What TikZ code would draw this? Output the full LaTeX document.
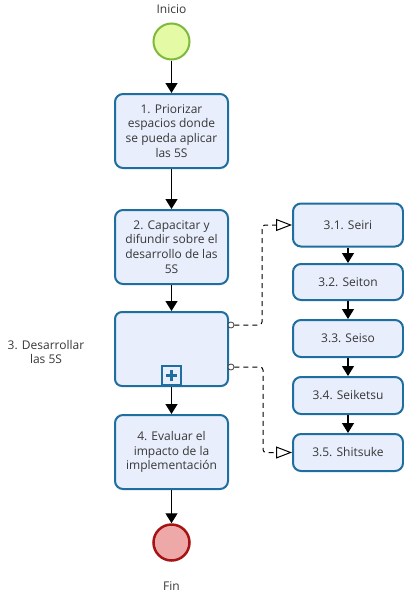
\documentclass[tikz,border=0pt]{standalone}
\usepackage{fontspec}
\setmainfont{Open Sans}
\usetikzlibrary{arrows.meta}
\definecolor{taskline}{RGB}{30,110,160}
\definecolor{taskfill}{RGB}{232,238,252}
\definecolor{startline}{RGB}{125,185,60}
\definecolor{startfill}{RGB}{228,250,165}
\definecolor{endline}{RGB}{165,20,20}
\definecolor{endfill}{RGB}{238,168,168}
\definecolor{txt}{RGB}{55,55,55}
\tikzset{
  task/.style={draw=taskline, fill=taskfill, line width=2pt, rounded corners=8pt,
    minimum width=113pt, minimum height=74pt, align=center,
    inner sep=0pt, text=txt, font=\fontsize{12}{14.7}\selectfont},
  subtask/.style={task, minimum width=110pt},
  startev/.style={circle, draw=startline, fill=startfill, line width=2pt, minimum size=36pt, inner sep=0pt},
  endev/.style={circle, draw=endline, fill=endfill, line width=2.5pt, minimum size=36pt, inner sep=0pt},
  lbl/.style={text=txt, align=center, font=\fontsize{12}{14.7}\selectfont},
  flow/.style={line width=1.3pt, -{Triangle[length=10pt,width=12pt]}},
  assoc/.style={line width=1pt, dash pattern=on 5pt off 4pt, rounded corners=3pt,
    -{Triangle[open,length=16pt,width=12pt,fill=white]}},
  bnd/.style={circle, draw=black!75, fill=white, line width=0.8pt, minimum size=6pt, inner sep=0pt},
}
\begin{document}
\begin{tikzpicture}[x=1pt,y=-1pt]
\useasboundingbox (0,0) rectangle (404,592);

% main flow
\node[lbl] (inicio) at (171.5,9.5) {Inicio};
\node[startev] (start) at (171.5,41.5) {};
\node[task] (t1) at (171.5,131) {1. Priorizar\\espacios donde\\se pueda aplicar\\las 5S};
\node[task] (t2) at (171.5,247) {2. Capacitar y\\difundir sobre el\\desarrollo de las\\5S};
\node[task, rounded corners=7pt] (t3) at (171.5,349) {};
\node[task] (t4) at (171.5,452) {4. Evaluar el\\impacto de la\\implementación};
\node[endev] (end) at (171.5,542.5) {};
\node[lbl] (fin) at (171.5,586) {Fin};
\node[lbl] (t3lbl) at (46,352) {3. Desarrollar\\las 5S};

% collapsed sub-process marker
\node[draw=taskline, fill=taskfill, line width=1.8pt, minimum size=19pt, inner sep=0pt] (plus) at (171.5,375.7) {};
\draw[taskline, line width=3pt] (plus.center) ++(-5.5,0) -- ++(11,0);
\draw[taskline, line width=3pt] (plus.center) ++(0,-5.5) -- ++(0,11);

% sub-steps
\node[subtask, minimum height=43pt] (s1) at (348,225) {3.1. Seiri};
\node[subtask, minimum height=36pt] (s2) at (348,282) {3.2. Seiton};
\node[subtask, minimum height=37pt] (s3) at (348,338.5) {3.3. Seiso};
\node[subtask, minimum height=37pt] (s4) at (348,395.5) {3.4. Seiketsu};
\node[subtask, minimum height=37pt] (s5) at (348,452.5) {3.5. Shitsuke};

% sequence flows
\draw[flow] (start) -- (t1);
\draw[flow] (t1) -- (t2);
\draw[flow] (t2) -- (t3);
\draw[flow] (t3) -- (t4);
\draw[flow] (t4) -- (end);
\draw[flow] (s1) -- (s2);
\draw[flow] (s2) -- (s3);
\draw[flow] (s3) -- (s4);
\draw[flow] (s4) -- (s5);

% associations from the sub-process
\node[bnd] (b1) at (231,325) {};
\node[bnd] (b2) at (231,367) {};
\draw[assoc] (b1.east) -- (262,325) |- (s1.west);
\draw[assoc] (b2.east) -- (263,367) |- (s5.west);
\end{tikzpicture}
\end{document}
